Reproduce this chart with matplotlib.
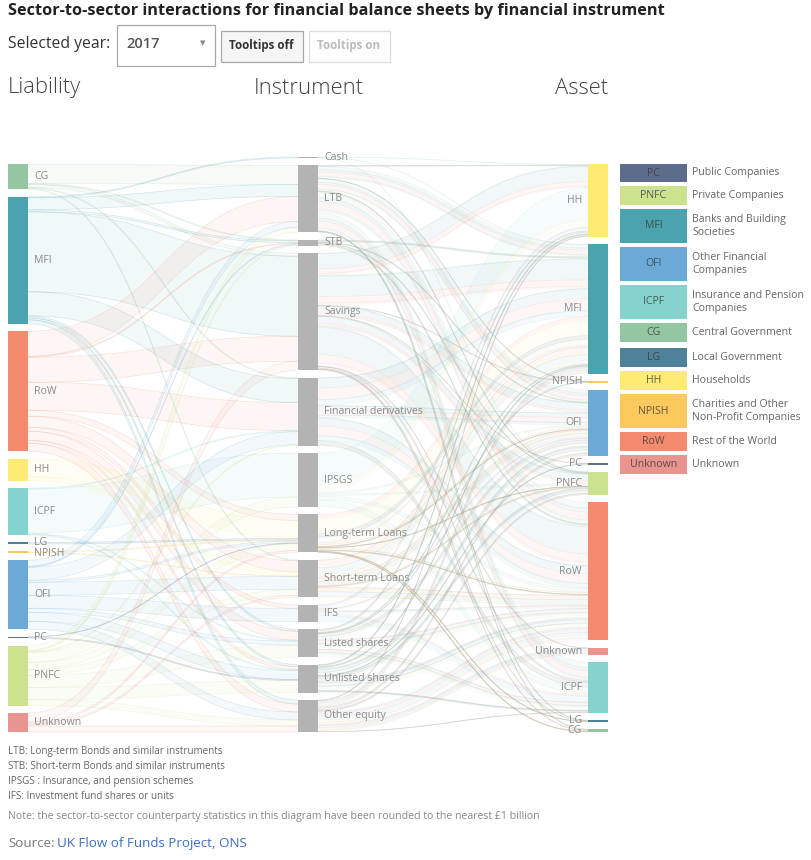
import matplotlib
matplotlib.use("Agg")
import matplotlib.pyplot as plt
from matplotlib.path import Path
from matplotlib.patches import PathPatch, Rectangle
import numpy as np

plt.rcParams['font.family'] = ['Open Sans', 'DejaVu Sans']

# ---------------- data (GBP billion) ----------------
liabilities = ["CG", "MFI", "RoW", "HH", "ICPF", "LG", "NPISH", "OFI", "PC", "PNFC", "Unknown"]
instruments = ["Cash", "LTB", "STB", "Savings", "Financial derivatives", "IPSGS",
               "Long-term Loans", "Short-term Loans", "IFS", "Listed shares",
               "Unlisted shares", "Other equity"]
assets = ["HH", "MFI", "NPISH", "OFI", "PC", "PNFC", "RoW", "Unknown", "ICPF", "LG", "CG"]

# rows: liability sector, columns: instrument
liab_to_instr = [
    [0,  950,  50,  150,   50,    0,    0,  50,   0,   0,   0,   0],   # CG
    [50, 600, 100, 4000, 1200,    0,    0,   0,   0, 100, 100, 200],   # MFI
    [0, 1250,  50, 1250, 1400,    0,  300, 550, 200, 450, 150, 400],   # RoW
    [0,    0,   0,    0,    0,    0,  900, 200,   0,   0,   0,   0],   # HH
    [0,    0,   0,    0,   50, 2200,    0,   0,   0,  50,  50,   0],   # ICPF
    [0,    0,   0,    0,    0,    0,   75,   0,   0,   0,   0,   0],   # LG
    [0,    0,   0,    0,    0,    0,   50,  25,   0,   0,   0,   0],   # NPISH
    [0,  300,  50,    0,  650,    0,  100, 650, 650, 200, 450, 400],   # OFI
    [0,    0,   0,    0,    0,    0,   25,   0,   0,   0,  50,   0],   # PC
    [0,  250,  50,    0,   50,  500,  350, 300,   0, 600, 600, 300],   # PNFC
    [0,    0,   0,  450,    0,    0,  100, 100,   0,   0,   0, 300],   # Unknown
]

# rows: instrument, columns: asset sector
instr_to_asset = [
    [25,   15,  0,   0,  0,  10,    0,   0,   0,  0,  0],   # Cash
    [50,  600, 25, 600,  0,  50, 1050,   0, 900, 25, 50],   # LTB
    [0,   100,  0,  50,  0,  50,  100,   0,   0,  0,  0],   # STB
    [1100, 1500, 25, 500, 25, 500, 2000, 25, 100, 25, 50],  # Savings
    [0,  1400,  0, 600,  0,   0, 1150,   0, 250,  0,  0],   # Financial derivatives
    [1950,  0,  0, 100,  0, 100,  200,   0, 350,  0,  0],   # IPSGS
    [0,  1500,  0, 150,  0,  25,  150,   0,   0, 25, 50],   # Long-term Loans
    [0,   900,  0, 400,  0,  75,  500,   0,   0,  0,  0],   # Short-term Loans
    [200,   0,  0, 100,  0,   0,  150,   0, 400,  0,  0],   # IFS
    [150,  50, 25, 300,  0,   0,  475,   0, 400,  0,  0],   # Listed shares
    [100, 100,  0, 350, 25, 250,  475,   0, 100,  0,  0],   # Unlisted shares
    [50,  300,  0, 150,  0, 100,  650, 325,  25,  0,  0],   # Other equity
]

legend_codes = ["PC", "PNFC", "MFI", "OFI", "ICPF", "CG", "LG", "HH", "NPISH", "RoW", "Unknown"]
legend_names = ["Public Companies", "Private Companies", "Banks and Building\nSocieties",
                "Other Financial\nCompanies", "Insurance and Pension\nCompanies",
                "Central Government", "Local Government", "Households",
                "Charities and Other\nNon-Profit Companies", "Rest of the World", "Unknown"]
sector_colors = {
    "PC": "#5b6d8a", "PNFC": "#cce28e", "MFI": "#4ba3ad", "OFI": "#6baad7",
    "ICPF": "#84d3ce", "CG": "#94c6a1", "LG": "#4d8299", "HH": "#feeb74",
    "NPISH": "#fec95c", "RoW": "#f48a6e", "Unknown": "#ea9490",
}
footnotes = ["LTB: Long-term Bonds and similar instruments",
             "STB: Short-term Bonds and similar instruments",
             "IPSGS : Insurance, and pension schemes",
             "IFS: Investment fund shares or units"]

# ---------------- figure ----------------
W, H = 811, 860
fig = plt.figure(figsize=(W / 100, H / 100), dpi=100)
ax = fig.add_axes([0, 0, 1, 1])
ax.set_xlim(0, W)
ax.set_ylim(H, 0)
ax.axis("off")

Lm = np.array(liab_to_instr, float)
Rm = np.array(instr_to_asset, float)
liab_tot = Lm.sum(1)
instr_tot = np.maximum(Lm.sum(0), Rm.sum(1))
asset_tot = Rm.sum(0)

y_top, y_bot, pad = 157.0, 732.0, 7.4
nmax = max(len(liabilities), len(instruments), len(assets))
ky = (y_bot - y_top - (nmax - 1) * pad) / max(liab_tot.sum(), instr_tot.sum(), asset_tot.sum())


def stack(tot):
    h = tot * ky
    top = y_bot - (h.sum() + (len(tot) - 1) * pad)
    y0 = top + np.concatenate([[0.0], np.cumsum(h[:-1] + pad)])
    return y0, h


ly0, lh = stack(liab_tot)
iy0, ih = stack(instr_tot)
ay0, ah = stack(asset_tot)

xL, xI, xA, nw = 8, 298, 588, 20
CURVE = [Path.MOVETO, Path.CURVE4, Path.CURVE4, Path.CURVE4]


def band(x0, x1, s0, s1, t0, t1, color, fa=0.075, ea=0.22, both=True):
    xm = (x0 + x1) / 2
    verts = [(x0, s0), (xm, s0), (xm, t0), (x1, t0), (x1, t1),
             (xm, t1), (xm, s1), (x0, s1), (x0, s0)]
    codes = [Path.MOVETO, Path.CURVE4, Path.CURVE4, Path.CURVE4, Path.LINETO,
             Path.CURVE4, Path.CURVE4, Path.CURVE4, Path.CLOSEPOLY]
    ax.add_patch(PathPatch(Path(verts, codes), facecolor=color, alpha=fa,
                           edgecolor="none", lw=0, zorder=1))
    edges = [verts[0:4]]
    if both:
        edges.append(verts[4:8])
    for edge in edges:
        ax.add_patch(PathPatch(Path(edge, CURVE), facecolor="none", edgecolor=color,
                               alpha=ea, lw=0.5, zorder=1))


# left links: liability -> instrument (ordered by liability at the instrument side)
tgt_pos = {}
for j in range(len(instruments)):
    off = iy0[j]
    for i in range(len(liabilities)):
        tgt_pos[(i, j)] = off
        off += Lm[i, j] * ky
src_off = ly0.copy()
for i in range(len(liabilities)):
    for j in range(len(instruments)):
        v = Lm[i, j] * ky
        if v <= 0:
            continue
        t = tgt_pos[(i, j)]
        band(xL + nw, xI, src_off[i], src_off[i] + v, t, t + v, sector_colors[liabilities[i]])
        src_off[i] += v

# right links: instrument -> asset, split by liability share, coloured by liability
share = Lm / np.where(Lm.sum(0) > 0, Lm.sum(0), 1)
asset_pos = {}
for k in range(len(assets)):
    off = ay0[k]
    for j in range(len(instruments)):
        for i in range(len(liabilities)):
            asset_pos[(i, j, k)] = off
            off += Rm[j, k] * share[i, j] * ky
for j in range(len(instruments)):
    off = iy0[j]
    for k in range(len(assets)):
        for i in range(len(liabilities)):
            v = Rm[j, k] * share[i, j] * ky
            if v <= 0:
                continue
            t = asset_pos[(i, j, k)]
            band(xI + nw, xA, off, off + v, t, t + v, sector_colors[liabilities[i]],
                 fa=0.07, ea=0.13, both=False)
            off += v

# nodes
lab_col = "#8a8a8a"
fs_node = 7.6
label_shift = {"LG": -0.8, "NPISH": 1.0}
for i, name in enumerate(liabilities):
    ax.add_patch(Rectangle((xL, ly0[i]), nw, max(lh[i], 1.2), facecolor=sector_colors[name],
                           edgecolor="none", zorder=3))
    ax.text(xL + nw + 6, ly0[i] + lh[i] / 2 + label_shift.get(name, 0), name, fontsize=fs_node,
            color=lab_col, va="center", ha="left", zorder=4)
for j, name in enumerate(instruments):
    ax.add_patch(Rectangle((xI, iy0[j]), nw, max(ih[j], 1.2), facecolor="#b3b3b3",
                           edgecolor="none", zorder=3))
    ax.text(xI + nw + 6, iy0[j] + ih[j] / 2, name, fontsize=fs_node, color=lab_col,
            va="center", ha="left", zorder=4)
for k, name in enumerate(assets):
    ax.add_patch(Rectangle((xA, ay0[k]), nw, max(ah[k], 1.2), facecolor=sector_colors[name],
                           edgecolor="none", zorder=3))
    ax.text(xA - 6, ay0[k] + ah[k] / 2, name, fontsize=fs_node, color=lab_col,
            va="center", ha="right", zorder=4)

# legend
leg_rows = [(164, 182), (186, 205), (209, 243), (247, 281), (285, 319), (323, 342),
            (348, 367), (371, 390), (394, 428), (432, 451), (455, 474)]
for (t, b), code, nm in zip(leg_rows, legend_codes, legend_names):
    ax.add_patch(Rectangle((620, t), 67, b - t, facecolor=sector_colors[code], edgecolor="none"))
    ax.text(653.5, (t + b) / 2, code, fontsize=7.6, color="#3a3a3a", alpha=0.8,
            ha="center", va="center")
    ax.text(692, (t + b) / 2, nm, fontsize=7.6, color="#666666", ha="left", va="center",
            linespacing=1.35)

# header
ax.text(8, 11, "Sector-to-sector interactions for financial balance sheets by financial instrument",
        fontsize=11.7, fontweight="bold", color="#222222", ha="left", va="center")
ax.text(8, 44, "Selected year:", fontsize=11.3, color="#333333", ha="left", va="center")
ax.add_patch(Rectangle((116.5, 25), 98.5, 41, facecolor="white", edgecolor="#aaaaaa", lw=0.9))
ax.text(126, 44, "2017", fontsize=10.6, fontweight="semibold", color="#555555",
        ha="left", va="center")
ax.text(203, 43, "\u25BC", fontsize=5, color="#888888", ha="center", va="center",
        family=["DejaVu Sans"])
ax.add_patch(Rectangle((220.5, 31), 82, 31, facecolor="#f5f5f5", edgecolor="#aaaaaa", lw=0.9))
ax.text(261.5, 46, "Tooltips off", fontsize=8.4, fontweight="bold", color="#333333",
        ha="center", va="center")
ax.add_patch(Rectangle((308.5, 31), 81, 31, facecolor="white", edgecolor="#dddddd", lw=0.9))
ax.text(349, 46, "Tooltips on", fontsize=8.4, fontweight="bold", color="#bbbbbb",
        ha="center", va="center")

for x, s in [(8, "Liability"), (254, "Instrument"), (555, "Asset")]:
    ax.text(x, 88, s, fontsize=15.8, fontweight="light", color="#444444", ha="left", va="center")

# footnotes
for n, s in enumerate(footnotes):
    ax.text(8, 754 + 15 * n, s, fontsize=7.1, color="#666666", ha="left", va="baseline")
ax.text(8, 819, "Note: the sector-to-sector counterparty statistics in this diagram have been "
        "rounded to the nearest \u00a31 billion", fontsize=7.6, color="#888888",
        ha="left", va="baseline")
ax.text(8, 847, "Source:", fontsize=9.6, color="#777777", ha="left", va="baseline")
ax.text(57, 847, "UK Flow of Funds Project, ONS", fontsize=9.6, color="#3b6fc0",
        ha="left", va="baseline")

fig.savefig("out.png", dpi=100)
